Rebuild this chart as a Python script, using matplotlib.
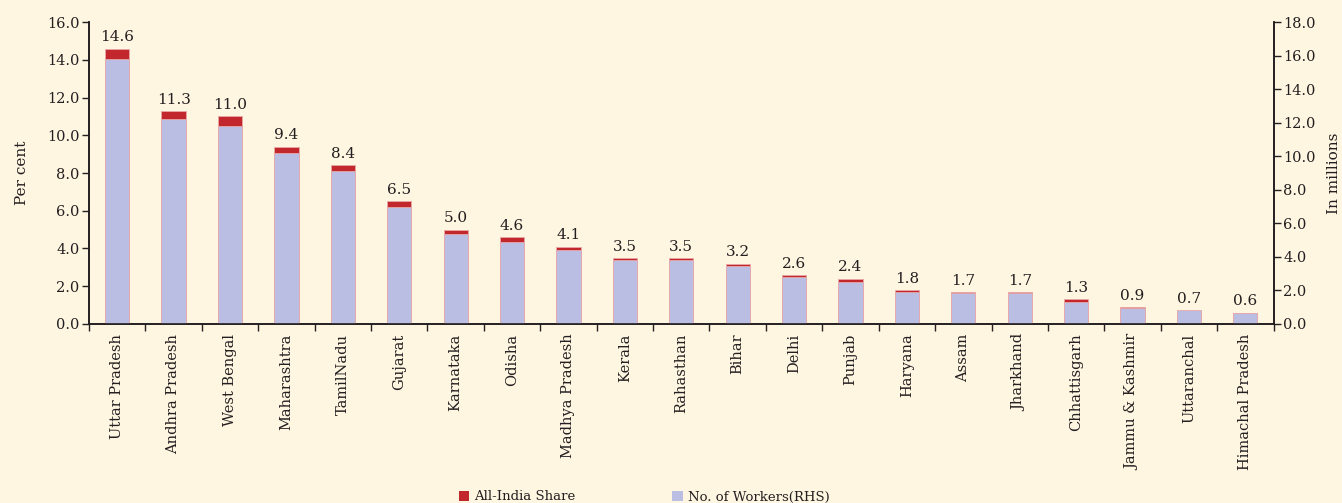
import matplotlib
matplotlib.use("Agg")
import matplotlib.pyplot as plt
from matplotlib.patches import Patch
import numpy as np

states = ["Uttar Pradesh", "Andhra Pradesh", "West Bengal", "Maharashtra", "TamilNadu",
          "Gujarat", "Karnataka", "Odisha", "Madhya Pradesh", "Kerala", "Rahasthan",
          "Bihar", "Delhi", "Punjab", "Haryana", "Assam", "Jharkhand", "Chhattisgarh",
          "Jammu & Kashmir", "Uttaranchal", "Himachal Pradesh"]
share_pct = [14.6, 11.3, 11.0, 9.4, 8.4, 6.5, 5.0, 4.6, 4.1, 3.5, 3.5, 3.2, 2.6, 2.4,
             1.8, 1.7, 1.7, 1.3, 0.9, 0.7, 0.6]
workers_mn = [15.8, 12.2, 11.8, 10.2, 9.1, 7.0, 5.34, 4.89, 4.43, 3.8, 3.8, 3.46, 2.8,
              2.52, 1.91, 1.83, 1.83, 1.33, 0.97, 0.83, 0.64]

bg = "#FFF6E2"
red = "#C1272D"
blue = "#BABEE2"
edge = "#E8A8A8"
txt = "#231F20"

plt.rcParams['font.family'] = ['DejaVu Serif']
plt.rcParams['text.color'] = txt
plt.rcParams['axes.labelcolor'] = txt
plt.rcParams['xtick.color'] = txt
plt.rcParams['ytick.color'] = txt

fig = plt.figure(figsize=(13.42, 5.03), dpi=100, facecolor=bg)
ax = fig.add_axes([0.0663, 0.356, 0.8827, 0.600])
ax.set_facecolor(bg)
ax2 = ax.twinx()

x = np.arange(len(states))
w = 0.43
ax.bar(x, share_pct, width=w, color=red, edgecolor=edge, linewidth=0.6, zorder=2)
ax2.bar(x, workers_mn, width=w, color=blue, edgecolor=edge, linewidth=0.6, zorder=2)

ax.set_xlim(-0.5, len(states) - 0.5)
ax.set_ylim(0, 16)
ax2.set_ylim(0, 18)
ax.set_yticks(np.arange(0, 16.1, 2))
ax.set_yticklabels([f"{v:.1f}" for v in np.arange(0, 16.1, 2)], fontsize=10.5)
ax2.set_yticks(np.arange(0, 18.1, 2))
ax2.set_yticklabels([f"{v:.1f}" for v in np.arange(0, 18.1, 2)], fontsize=10.5)

ax.set_xticks(x)
ax.set_xticklabels(states, rotation=90, fontsize=10.5)
ax.tick_params(axis='x', length=0, pad=7)
ax.set_xticks(np.arange(-0.5, len(states), 1), minor=True)
ax.tick_params(axis='x', which='minor', length=5, direction='out', width=1)
ax.tick_params(axis='y', length=5, direction='out', width=1, pad=2)
ax2.tick_params(axis='y', length=5, direction='out', width=1, pad=2)

for a in (ax, ax2):
    a.spines['top'].set_visible(False)
    for s in ('left', 'right', 'bottom'):
        a.spines[s].set_color(txt)
        a.spines[s].set_linewidth(1.2)

ax.set_ylabel("Per cent", fontsize=11, labelpad=13)
ax2.set_ylabel("In millions", fontsize=11, rotation=90, labelpad=8)

for i, v in enumerate(share_pct):
    top = max(v, workers_mn[i] * 16 / 18)
    ax2.annotate(f"{v:.1f}", xy=(i, top), xycoords=ax.transData, xytext=(0, 3),
                 textcoords='offset points', ha='center', va='bottom', fontsize=11,
                 color=txt)

handles = [Patch(facecolor=red, edgecolor='none', label="All-India Share"),
           Patch(facecolor=blue, edgecolor='none', label="No. of Workers(RHS)")]
fig.legend(handles=handles, loc='center', bbox_to_anchor=(0.48, 0.012), ncol=2,
           frameon=False, fontsize=9.5, columnspacing=7.3, handlelength=0.8,
           handleheight=0.8, handletextpad=0.4)

fig.savefig("out.png", dpi=100, facecolor=bg)
